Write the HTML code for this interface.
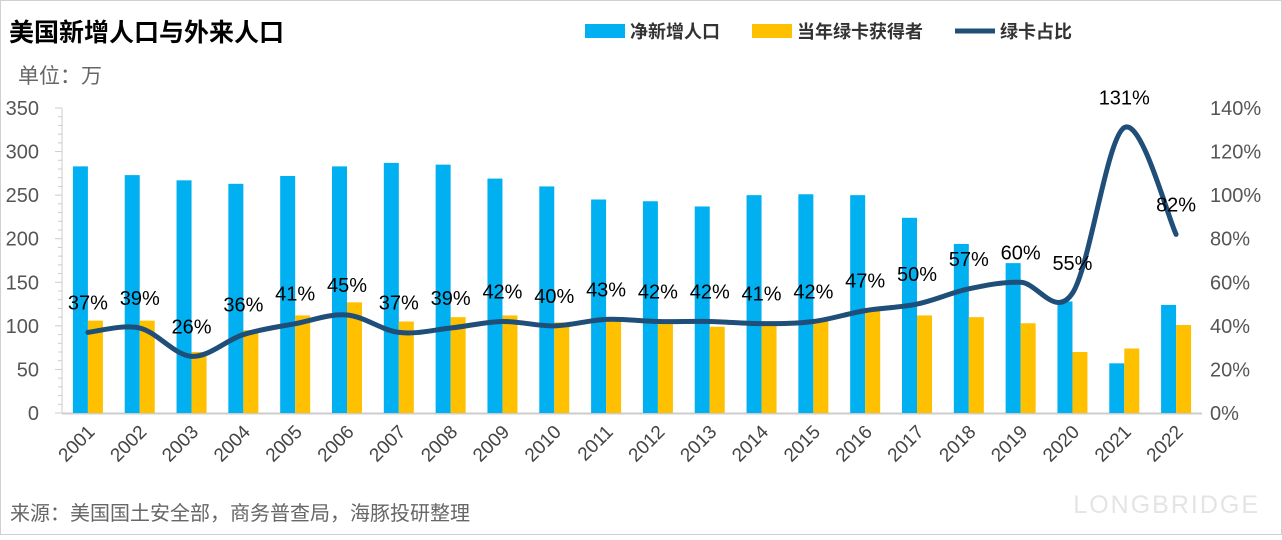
<!DOCTYPE html>
<html><head><meta charset="utf-8"><style>
html,body{margin:0;padding:0;background:#fff;}
body{width:1282px;height:535px;overflow:hidden;font-family:"Liberation Sans","Noto Sans CJK SC",sans-serif;}
svg text{font-family:"Liberation Sans","Noto Sans CJK SC",sans-serif;}
</style></head><body>
<svg id="chart" width="1282" height="535" xmlns="http://www.w3.org/2000/svg">
<rect x="0.5" y="0.5" width="1281" height="534" fill="#fff" stroke="#d0d0d0"/>
<text x="9" y="41" font-size="25" font-weight="bold" fill="#000">美国新增人口与外来人口</text>
<text x="18" y="83" font-size="21" fill="#666">单位：万</text>
<text x="10" y="520" font-size="20" fill="#666">来源：美国国土安全部，商务普查局，海豚投研整理</text>
<text x="1260" y="513" font-size="25" fill="#e4e4e4" text-anchor="end" letter-spacing="2">LONGBRIDGE</text>
<g>
<rect x="585" y="24" width="40" height="14" fill="#00b0f0"/>
<text x="630" y="38" font-size="18" font-weight="bold" fill="#333">净新增人口</text>
<rect x="752" y="24" width="40" height="14" fill="#ffc000"/>
<text x="797" y="38" font-size="18" font-weight="bold" fill="#333">当年绿卡获得者</text>
<line x1="955" y1="31" x2="995" y2="31" stroke="#1f4e79" stroke-width="5"/>
<text x="1000" y="38" font-size="18" font-weight="bold" fill="#333">绿卡占比</text>
</g>
<g id="plot"></g>
</svg>
<script>
const years=["2001","2002","2003","2004","2005","2006","2007","2008","2009","2010","2011","2012","2013","2014","2015","2016","2017","2018","2019","2020","2021","2022"];
const netPop=[283,273,267,263,272,283,287,285,269,260,245,243,237,250,251,250,224,194,172,128,57,124];
const greenCard=[106,106,70,95,112,127,105,110,112,104,106,102,99,102,105,118,112,110,103,70,74,101];
const ratio=[37,39,26,36,41,45,37,39,42,40,43,42,42,41,42,47,50,57,60,55,131,82];
const leftTicks=[0,50,100,150,200,250,300,350];
const rightTicks=[0,20,40,60,80,100,120,140];

const NS="http://www.w3.org/2000/svg";
const g=document.getElementById('plot');
const X0=62,X1=1202,Y0=413,Y1=108;
const band=(X1-X0)/years.length;
const yL=v=>Y0-(v/350)*(Y0-Y1);
const yR=v=>Y0-(v/140)*(Y0-Y1);
const xc=i=>X0+band*(i+0.5);
function el(t,a){const e=document.createElementNS(NS,t);for(const k in a)e.setAttribute(k,a[k]);g.appendChild(e);return e;}

leftTicks.forEach(t=>{
 const e=el('text',{x:39,y:yL(t)+7,'font-size':20,fill:'#555','text-anchor':'end'});e.textContent=t;
 
 
});
rightTicks.forEach(t=>{
 const e=el('text',{x:1210,y:yR(t)+7,'font-size':20,fill:'#555'});e.textContent=t+'%';
 
 
});
for(let v=0;v<=350;v+=10){const l=el('line',{x1:v%50?58:55,x2:X0,y1:yL(v),y2:yL(v),stroke:'#ccc','stroke-width':1});
 
 }
const ax=el('line',{x1:X0,x2:X0,y1:Y1,y2:Y0,stroke:'#ccc'});


const bx=el('line',{x1:X0,x2:X1,y1:Y0+0.5,y2:Y0+0.5,stroke:'#ccc','stroke-width':2});



years.forEach((y,i)=>{
 const c=xc(i);
 const b=el('rect',{x:c-15,y:yL(netPop[i]),width:15,height:Y0-yL(netPop[i]),fill:'#00b0f0'});
 
 
 const b2=el('rect',{x:c,y:yL(greenCard[i]),width:15,height:Y0-yL(greenCard[i]),fill:'#ffc000'});
 
 
 const t=el('text',{x:c+8,y:433,'font-size':19,fill:'#444','text-anchor':'end',transform:`rotate(-45 ${c+8} 433)`});t.textContent=y;
 
 
});
const pts=ratio.map((v,i)=>[xc(i),yR(v)]);
let d=`M${pts[0][0]},${pts[0][1]}`;
for(let i=0;i<pts.length-1;i++){
 const p0=pts[i-1]||pts[i],p1=pts[i],p2=pts[i+1],p3=pts[i+2]||p2;
 const k=1/6;
 d+=` C${p1[0]+(p2[0]-p0[0])*k},${p1[1]+(p2[1]-p0[1])*k} ${p2[0]-(p3[0]-p1[0])*k},${p2[1]-(p3[1]-p1[1])*k} ${p2[0]},${p2[1]}`;
}
const ln=el('path',{d:d,fill:'none',stroke:'#1f4e79','stroke-width':5,'stroke-linecap':'round'});


ratio.forEach((v,i)=>{
 const t=el('text',{x:xc(i),y:yR(v)-23,'font-size':20,fill:'#000','text-anchor':'middle'});t.textContent=v+'%';
 
 
});
</script>
</body></html>
